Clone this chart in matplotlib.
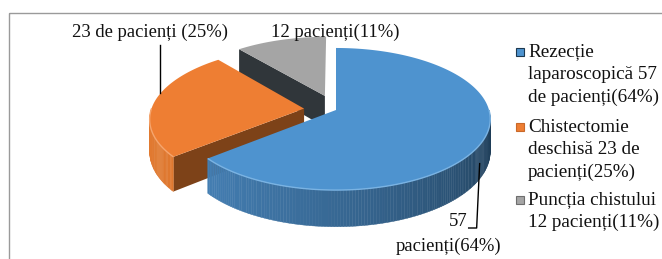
import numpy as np
import matplotlib.pyplot as plt
from matplotlib.patches import Polygon, Rectangle
from matplotlib.colors import to_rgb

# data
counts = [57, 23, 12]
percents = [64, 25, 11]
legend_labels = ['Rezecție\nlaparoscopică 57\nde pacienți(64%)',
                 'Chistectomie\ndeschisă 23 de\npacienți(25%)',
                 'Puncția chistului\n12 pacienți(11%)']
explode = [0.0, 0.21, 0.22]

top_colors = ['#4e93cf', '#ee7e33', '#a5a5a5']
side_light = ['#4a89c2', '#e27a30', '#8c8c8c']
side_dark = ['#1c3850', '#c9692a', '#6e6e6e']
cut_colors = ['#27486a', '#7d4218', '#30363a']
rim_colors = ['#7ab3e3', '#f5a56e', '#c8c8c8']

# pseudo 3d projection (pixel space)
cx, cy = 336, 110
A, B, P, H = 153, 69.9, 0.127, 32


def proj(X, Y, z=0.0):
    s = 1.0 / (1.0 + P * Y)
    return cx + A * X * s, cy - B * Y * s + H * z * s


def mix(c1, c2, t):
    a, b = np.array(to_rgb(c1)), np.array(to_rgb(c2))
    return tuple(a * (1 - t) + b * t)


fig = plt.figure(figsize=(6.62, 2.59), dpi=100)
ax = fig.add_axes([0, 0, 1, 1])
ax.set_xlim(0, 662)
ax.set_ylim(259, 0)
ax.axis('off')

ax.add_patch(Rectangle((9, 13), 700, 300, fill=False, ec='#9a9a9a', lw=1.0))

frac = np.array(percents, float) / sum(percents)
edges = np.concatenate([[0], np.cumsum(frac) * 360])

slices = []
for i in range(len(percents)):
    t0, t1 = edges[i], edges[i + 1]
    m = np.radians((t0 + t1) / 2)
    ox, oy = explode[i] * np.sin(m), explode[i] * np.cos(m)
    slices.append((oy, i, t0, t1, ox))

# back to front
for oy, i, t0, t1, ox in sorted(slices, reverse=True):
    def rim(th, z=0.0):
        r = np.radians(th)
        return proj(ox + np.sin(r), oy + np.cos(r), z)
    apex_t = proj(ox, oy, 0)
    apex_b = proj(ox, oy, 1)

    # radial cut faces
    if np.sin(np.radians(t0)) < -1e-6:
        ax.add_patch(Polygon([apex_t, rim(t0), rim(t0, 1), apex_b],
                             closed=True, fc=cut_colors[i], ec='none'))
    if np.sin(np.radians(t1)) > 1e-6:
        ax.add_patch(Polygon([apex_t, rim(t1), rim(t1, 1), apex_b],
                             closed=True, fc=cut_colors[i], ec='none'))

    # outer curved side
    a0, a1 = max(t0, 90), min(t1, 270)
    if a1 > a0:
        ths = np.linspace(a0, a1, int(a1 - a0) + 2)
        for k in range(len(ths) - 1):
            ta, tb = ths[k], ths[k + 1]
            t = ((270 - (ta + tb) / 2) / 180) ** 1.3
            ax.add_patch(Polygon([rim(ta), rim(tb), rim(tb, 1), rim(ta, 1)],
                                 closed=True, fc=mix(side_light[i], side_dark[i], t),
                                 ec=mix(side_light[i], side_dark[i], t), lw=0.3))

    # top face
    ths = np.linspace(t0, t1, 200)
    pts = [apex_t] + [rim(th) for th in ths]
    ax.add_patch(Polygon(pts, closed=True, fc=top_colors[i], ec='none'))
    if a1 > a0:
        hs = np.linspace(a0, a1, 100)
        hx, hy = zip(*[rim(th) for th in hs])
        ax.plot(hx, hy, color=rim_colors[i], lw=1.0, solid_capstyle='butt')

font = dict(family='Liberation Serif', fontsize=13.4, color='#111111')
lfont = dict(family='Liberation Serif', fontsize=13.8, color='#111111')

# data labels
ox_o = explode[1] * np.sin(np.radians((edges[1] + edges[2]) / 2))
oy_o = explode[1] * np.cos(np.radians((edges[1] + edges[2]) / 2))
r = np.radians(283)
lx, ly = proj(ox_o + np.sin(r), oy_o + np.cos(r))
ax.plot([lx, lx], [ly, 45], color='black', lw=1.0)
ax.text(150, 32, f'{counts[1]} de pacienți ({percents[1]}%)', ha='center', va='center', **font)

ax.text(335, 32, f'{counts[2]} pacienți({percents[2]}%)', ha='center', va='center', **font)

r = np.radians(118)
bx, by = proj(np.sin(r), np.cos(r), 0.55)
ax.plot([bx, bx - 3, bx - 11], [by, 228, 228], color='black', lw=1.0)
ax.text(468, 221, f'{counts[0]}', ha='right', va='center', **font)
ax.text(449, 246, f'pacienți({percents[0]}%)', ha='center', va='center', **font)

# legend
entry_y = [52, 127, 200]
line_step = 22.5
for i, lab in enumerate(legend_labels):
    ax.add_patch(Rectangle((516, entry_y[i] - 4), 8, 8, fc=top_colors[i],
                           ec=side_dark[i], lw=0.8))
    for k, line in enumerate(lab.split('\n')):
        ax.text(528, entry_y[i] + k * line_step, line, ha='left', va='center', **lfont)

fig.savefig('out.png', dpi=100)
